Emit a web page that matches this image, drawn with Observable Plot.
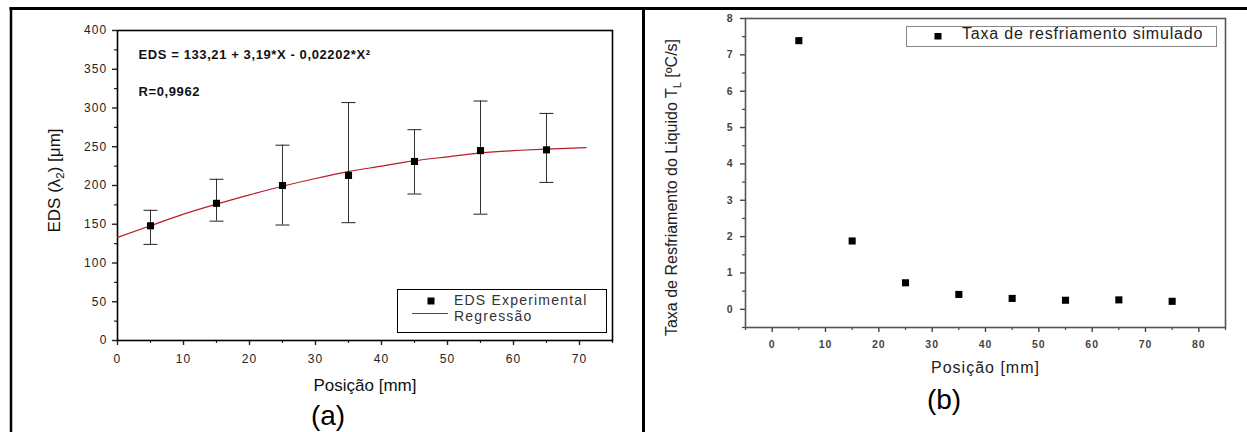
<!DOCTYPE html>
<html><head><meta charset="utf-8">
<script src="https://cdn.jsdelivr.net/npm/d3@7"></script>
<script src="https://cdn.jsdelivr.net/npm/@observablehq/plot@0.6"></script>
<style>
body{margin:0;background:#fff;}
#wrap{position:relative;width:1247px;height:432px;overflow:hidden;font-family:"Liberation Sans",Arial,sans-serif;background:#fff;}
#wrap svg{position:absolute;top:0;}
#ca g[aria-label="y-axis tick label"] text, #ca g[aria-label="x-axis tick label"] text{letter-spacing:1.2px;}
#cb g[aria-label="y-axis tick label"] text, #cb g[aria-label="x-axis tick label"] text{letter-spacing:1px;font-weight:bold;}
</style></head><body><div id="wrap"></div>
<script>
// ---- Panel (a) data ----
const posA = [5, 15, 25, 35, 45, 55, 65];
const edsA = [148, 177, 200, 213, 231, 245, 246];
const errHiA = [168, 208, 252, 307, 272, 309, 293];
const errLoA = [124, 154, 149, 152, 189, 163, 204];
const regX = [0, 5, 10, 15, 20, 25, 30, 35, 40, 45, 50, 55, 60, 65, 71];
const regY = [133, 148, 163, 176, 188, 199, 209, 218, 225, 232, 237, 242, 245, 247, 249];
const ticksYA = [0, 50, 100, 150, 200, 250, 300, 350, 400];
const ticksXA = [0, 10, 20, 30, 40, 50, 60, 70];
const titleXA = "Posição [mm]";
const titleYA = "EDS (λ_2) [μm]";
const eqText = "EDS = 133,21 + 3,19*X - 0,02202*X²";
const rText = "R=0,9962";
const legendA = ["EDS Experimental", "Regressão"];

// ---- Panel (b) data ----
const posB = [5, 15, 25, 35, 45, 55, 65, 75];
const rateB = [7.39, 1.88, 0.73, 0.41, 0.30, 0.25, 0.26, 0.22];
const ticksYB = [0, 1, 2, 3, 4, 5, 6, 7, 8];
const ticksXB = [0, 10, 20, 30, 40, 50, 60, 70, 80];
const titleXB = "Posição [mm]";
const titleYB = "Taxa de Resfriamento do Liquido T_L [ºC/s]";
const legendB = ["Taxa de resfriamento simulado"];

const FONT = "Liberation Sans, Arial, sans-serif";
const hline = {draw(ctx, size) { const r = Math.sqrt(size / Math.PI); ctx.moveTo(-r, 0); ctx.lineTo(r, 0); }};

function subscriptify(svg, fs) {
  d3.select(svg).selectAll("text").each(function() {
    const t = this.textContent;
    const m = t.match(/^(.*)_(\w)(.*)$/);
    if (!m) return;
    const sel = d3.select(this);
    sel.text(null);
    sel.append("tspan").text(m[1]);
    sel.append("tspan").attr("dy", fs * 0.28).attr("font-size", fs * 0.68).text(m[2]);
    sel.append("tspan").attr("dy", -fs * 0.28).text(m[3]);
  });
}

const wrap = document.getElementById("wrap");

// ---- Chart (a) ----
const dataA = posA.map((x, i) => ({x, y: edsA[i], hi: errHiA[i], lo: errLoA[i]}));
const regData = regX.map((x, i) => ({x, y: regY[i]}));
const minorYA = ticksYA.slice(0, -1).map(v => v + 25);
const minorXA = ticksXA.map(v => v + 5);

const chartA = Plot.plot({
  width: 644, height: 432,
  marginLeft: 117, marginRight: 32, marginTop: 30, marginBottom: 92,
  style: {fontFamily: FONT, background: "transparent", color: "#000"},
  x: {domain: [0, 75]},
  y: {domain: [0, 400]},
  marks: [
    Plot.axisY({ticks: ticksYA, tickSize: 5, tickPadding: 5, fontSize: 12, label: null, color: "#222", strokeWidth: 1.4}),
    Plot.axisY({ticks: minorYA, tickSize: 3, tickFormat: () => "", label: null, color: "#222", strokeWidth: 1.2}),
    Plot.axisX({ticks: ticksXA, tickSize: 5, tickPadding: 9, fontSize: 12, label: null, color: "#222", strokeWidth: 1.4}),
    Plot.axisX({ticks: minorXA, tickSize: 3, tickFormat: () => "", label: null, color: "#222", strokeWidth: 1.2}),
    Plot.frame({stroke: "#000", strokeWidth: 1.6}),
    Plot.line(regData, {x: "x", y: "y", stroke: "#b81c28", strokeWidth: 1.2, curve: "natural"}),
    Plot.ruleX(dataA, {x: "x", y1: "lo", y2: "hi", stroke: "#333", strokeWidth: 1}),
    Plot.dot(dataA, {x: "x", y: "hi", symbol: hline, r: 7, stroke: "#222", fill: "none", strokeWidth: 1}),
    Plot.dot(dataA, {x: "x", y: "lo", symbol: hline, r: 7, stroke: "#222", fill: "none", strokeWidth: 1}),
    Plot.dot(dataA, {x: "x", y: "y", symbol: "square", r: 4, fill: "#000", stroke: "none"}),
    Plot.text([titleXA], {text: d => d, frameAnchor: "bottom", textAnchor: "middle", lineAnchor: "bottom", dy: 50, fontSize: 17, fill: "#111"}),
    Plot.text([titleYA], {text: d => d, frameAnchor: "left", textAnchor: "middle", lineAnchor: "top", rotate: -90, dx: -70, dy: -5, fontSize: 17, fill: "#111"}),
    Plot.text([eqText], {text: d => d, frameAnchor: "top-left", textAnchor: "start", lineAnchor: "bottom", dx: 21, dy: 28.5, fontSize: 13, fontWeight: "bold", fill: "#111"}),
    Plot.text([rText], {text: d => d, frameAnchor: "top-left", textAnchor: "start", lineAnchor: "bottom", dx: 21, dy: 65, fontSize: 13, fontWeight: "bold", fill: "#111"})
  ]
});
chartA.setAttribute("id", "ca");
chartA.style.left = "0px";
subscriptify(chartA, 17);
d3.select(chartA).selectAll("text").filter(function() { return this.textContent === eqText || this.textContent === rText; }).style("letter-spacing", "0.6px");
wrap.appendChild(chartA);

// ---- Chart (b) ----
const dataB = posB.map((x, i) => ({x, y: rateB[i]}));
const minorYB = ticksYB.map(v => v - 0.5);
const minorXB = [ticksXB[0] - 5, ...ticksXB.map(v => v + 5)];

const chartB = Plot.plot({
  width: 603, height: 432,
  marginLeft: 101, marginRight: 22, marginTop: 18, marginBottom: 105,
  style: {fontFamily: FONT, background: "transparent", color: "#000"},
  x: {domain: [-5, 85]},
  y: {domain: [-0.5, 8]},
  marks: [
    Plot.axisY({ticks: ticksYB, tickSize: 5, tickPadding: 7, fontSize: 10.5, label: null, color: "#444", strokeWidth: 1.4}),
    Plot.axisY({ticks: minorYB, tickSize: 3, tickFormat: () => "", label: null, color: "#444", strokeWidth: 1.2}),
    Plot.axisX({ticks: ticksXB, tickSize: 5, tickPadding: 8, fontSize: 10.5, label: null, color: "#444", strokeWidth: 1.4}),
    Plot.axisX({ticks: minorXB, tickSize: 3, tickFormat: () => "", label: null, color: "#444", strokeWidth: 1.2}),
    Plot.frame({stroke: "#555", strokeWidth: 1.6}),
    Plot.dot(dataB, {x: "x", y: "y", symbol: "square", r: 4, fill: "#000", stroke: "none"}),
    Plot.text([titleXB], {text: d => d, frameAnchor: "bottom", textAnchor: "middle", lineAnchor: "bottom", dy: 45, fontSize: 16, fill: "#222"}),
    Plot.text([titleYB], {text: d => d, frameAnchor: "left", textAnchor: "middle", lineAnchor: "top", rotate: -90, dx: -80, dy: 14.5, fontSize: 16, fill: "#222"})
  ]
});
chartB.setAttribute("id", "cb");
chartB.style.left = "644px";
subscriptify(chartB, 16);
d3.select(chartB).selectAll("text").filter(function() { return this.textContent === titleXB; }).style("letter-spacing", "1px");
wrap.appendChild(chartB);

// ---- Overlay: panel frames, legends, panel letters ----
const ov = d3.select(wrap).append("svg").attr("width", 1247).attr("height", 432).style("left", "0px")
  .attr("font-family", FONT);
ov.append("line").attr("x1", 9.5).attr("x2", 1247).attr("y1", 8.5).attr("y2", 8.5).attr("stroke", "#000").attr("stroke-width", 3);
ov.append("line").attr("x1", 11).attr("x2", 11).attr("y1", 7).attr("y2", 432).attr("stroke", "#000").attr("stroke-width", 2.5);
ov.append("line").attr("x1", 643.5).attr("x2", 643.5).attr("y1", 7).attr("y2", 432).attr("stroke", "#000").attr("stroke-width", 3);

// legend (a)
const la = ov.append("g");
la.append("rect").attr("x", 397.5).attr("y", 289.5).attr("width", 209).attr("height", 43).attr("fill", "#fff").attr("stroke", "#000").attr("stroke-width", 1);
la.append("rect").attr("x", 427.5).attr("y", 297.5).attr("width", 7).attr("height", 7).attr("fill", "#000");
la.append("line").attr("x1", 412).attr("x2", 448).attr("y1", 313.5).attr("y2", 313.5).attr("stroke", "#b81c28").attr("stroke-width", 1.2);
la.append("text").attr("x", 454).attr("y", 305).attr("font-size", 14).attr("fill", "#333").style("letter-spacing", "1.2px").text(legendA[0]);
la.append("text").attr("x", 454).attr("y", 321).attr("font-size", 14).attr("fill", "#333").style("letter-spacing", "1.2px").text(legendA[1]);

// legend (b)
const lb = ov.append("g");
lb.append("rect").attr("x", 906.5).attr("y", 26.5).attr("width", 310).attr("height", 20).attr("fill", "#fff").attr("stroke", "#888").attr("stroke-width", 1);
lb.append("rect").attr("x", 934.5).attr("y", 33).attr("width", 7).attr("height", 6.5).attr("fill", "#000");
lb.append("text").attr("x", 962).attr("y", 39).attr("font-size", 16).attr("fill", "#222").style("letter-spacing", "0.8px").text(legendB[0]);

// panel letters
ov.append("text").attr("x", 328).attr("y", 425).attr("text-anchor", "middle").attr("font-size", 28).attr("fill", "#000").text("(a)");
ov.append("text").attr("x", 944).attr("y", 409).attr("text-anchor", "middle").attr("font-size", 28).attr("fill", "#000").text("(b)");
</script>
</body></html>
